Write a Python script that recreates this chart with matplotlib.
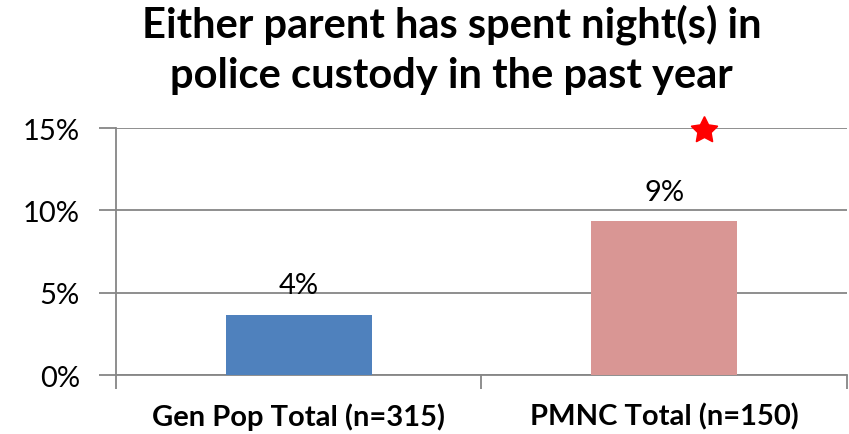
import matplotlib.pyplot as plt
from matplotlib.ticker import PercentFormatter

# survey results: share of respondents, in percent
groups = ["Gen Pop Total (n=315)", "PMNC Total (n=150)"]
shares = [3.65, 9.35]
share_labels = ["4%", "9%"]
bar_colors = ["#4F81BD", "#D99694"]
star_group = 1
star_level = 14.9

plt.rcParams['font.family'] = ['Lato', 'DejaVu Sans']

fig = plt.figure(figsize=(8.49, 4.35), dpi=100)
ax = fig.add_axes([0.1366, 0.1356, 0.861, 0.5678])

x = range(len(groups))
ax.bar(x, shares, width=0.4, color=bar_colors, zorder=3)
for xi, val, lab in zip(x, shares, share_labels):
    ax.text(xi, val + 1.0, lab, ha='center', va='bottom', fontsize=21)

# significance marker
ax.plot([star_group + 0.11], [star_level], marker=(5, 1, 0), markersize=20,
        color='red', markeredgecolor='red', zorder=4, clip_on=False)

ax.set_xlim(-0.5, 1.5)
ax.set_ylim(0, 15)
ax.set_yticks([0, 5, 10, 15])
ax.yaxis.set_major_formatter(PercentFormatter(decimals=0))
ax.set_xticks([-0.5, 0.5, 1.5], minor=False)
ax.set_xticklabels([])
ax.set_xticks(list(x), minor=True)
ax.set_xticklabels(groups, minor=True, fontsize=21, fontweight='bold')
ax.tick_params(axis='x', which='minor', length=0, pad=20)
ax.tick_params(axis='x', which='major', length=10, direction='out', color='#868686', width=1.3)
ax.tick_params(axis='y', length=12, direction='out', color='#868686', width=1.3, labelsize=21, pad=14)

ax.grid(axis='y', color='#868686', linewidth=1.3, zorder=0)
for side in ['top', 'right']:
    ax.spines[side].set_visible(False)
for side in ['left', 'bottom']:
    ax.spines[side].set_color('#868686')
    ax.spines[side].set_linewidth(1.3)

fig.text(0.532, 0.99, "Either parent has spent night(s) in\npolice custody in the past year",
         ha='center', va='top', fontsize=30, fontweight='bold', linespacing=1.4)

fig.savefig('out.png', dpi=100)
